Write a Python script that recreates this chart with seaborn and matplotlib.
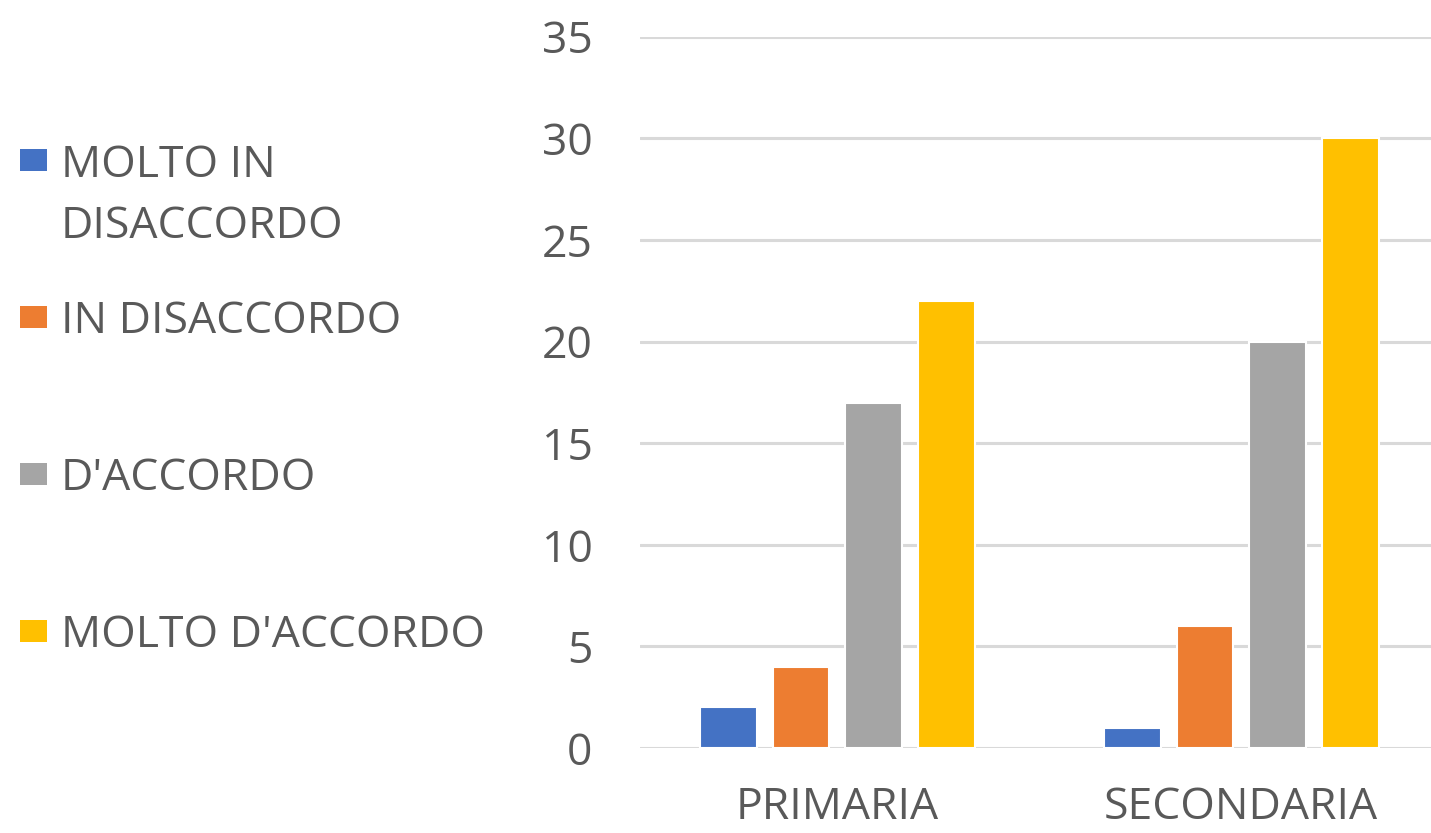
import matplotlib
matplotlib.use("Agg")
import matplotlib.pyplot as plt
import seaborn as sns
import pandas as pd
from matplotlib.patches import Rectangle

categories = ["PRIMARIA", "SECONDARIA"]
series = ["MOLTO IN\nDISACCORDO", "IN DISACCORDO", "D'ACCORDO", "MOLTO D'ACCORDO"]
values = {
    "MOLTO IN\nDISACCORDO": [2, 1],
    "IN DISACCORDO": [4, 6],
    "D'ACCORDO": [17, 20],
    "MOLTO D'ACCORDO": [22, 30],
}
colors = ["#4472C4", "#ED7D31", "#A5A5A5", "#FFC000"]
yticks = [0, 5, 10, 15, 20, 25, 30, 35]

rows = []
for s in series:
    for c, v in zip(categories, values[s]):
        rows.append({"cat": c, "serie": s, "val": v})
df = pd.DataFrame(rows)

sns.set_theme(style="white")
plt.rcParams["font.family"] = ["Open Sans", "DejaVu Sans"]
txt = "#595959"
FS = 32

W, H = 1431, 833
fig = plt.figure(figsize=(W / 100, H / 100), dpi=100)
ax = fig.add_axes([0.447, 0.102, 0.553, 0.854])
sns.barplot(data=df, x="cat", y="val", hue="serie", hue_order=series,
            palette=colors, width=0.72, gap=0.22, ax=ax, legend=False,
            edgecolor="white", linewidth=1.5, saturation=1)
ax.set_ylim(0, 35)
ax.set_xlim(-0.49, 1.47)
ax.set_yticks(yticks)
ax.set_yticklabels([str(t) for t in yticks])
ax.yaxis.grid(True, color="#D9D9D9", linewidth=2.2)
ax.set_axisbelow(True)
for sp in ax.spines.values():
    sp.set_visible(False)
ax.tick_params(axis="y", length=0, pad=34, labelsize=FS, labelcolor=txt)
ax.tick_params(axis="x", length=0, pad=27, labelsize=FS, labelcolor=txt)
ax.set_xlabel("")
ax.set_ylabel("")

# legend on the left, one entry per series
y0, step, line_step = 160, 157, 62
for i, (s, c) in enumerate(zip(series, colors)):
    yc = y0 + i * step
    nlines = s.count("\n") + 1
    fig.patches.append(Rectangle((20 / W, 1 - (yc + 11) / H), 27 / W, 22 / H,
                                 transform=fig.transFigure, facecolor=c,
                                 edgecolor="none"))
    fig.text(61 / W, 1 - (yc + 16 + (nlines - 1) * line_step) / H, s,
             fontsize=FS, color=txt, va="baseline", ha="left",
             linespacing=1.5)

fig.savefig("out.png", dpi=100)
